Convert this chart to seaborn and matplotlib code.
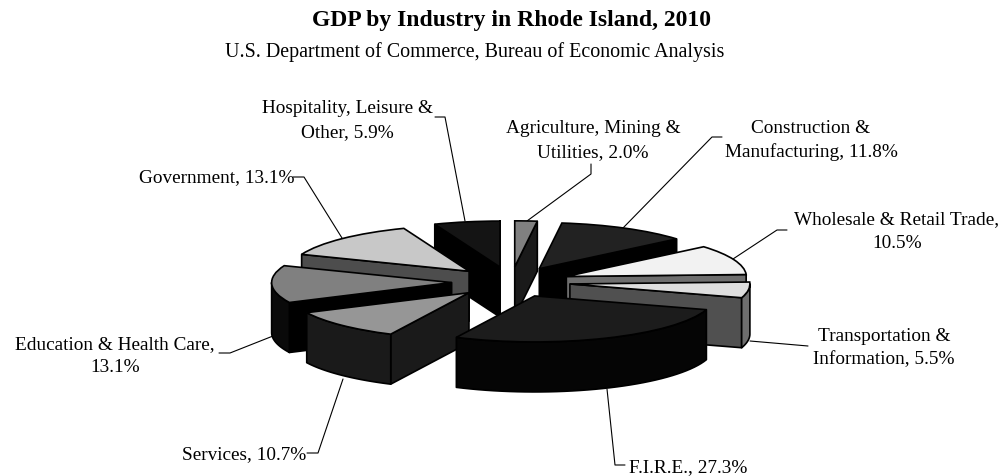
#!/usr/bin/env python3

import numpy as np
import seaborn as sns
import matplotlib
matplotlib.use("Agg")
import matplotlib.pyplot as plt
from matplotlib.patches import Polygon

# clockwise from twelve o'clock
industries = ["Agriculture, Mining &\nUtilities, 2.0%",
	"Construction &\nManufacturing, 11.8%",
	"Wholesale & Retail Trade,\n10.5%",
	"Transportation &\nInformation, 5.5%",
	"F.I.R.E., 27.3%",
	"Services, 10.7%",
	"Education & Health Care,\n13.1%",
	"Government, 13.1%",
	"Hospitality, Leisure &\nOther, 5.9%"]
shares = [2.0, 11.8, 10.5, 5.5, 27.3, 10.7, 13.1, 13.1, 5.9]
top_shades = ["#808080", "#222222", "#f2f2f2", "#dedede", "#1c1c1c", "#969696", "#808080", "#c8c8c8", "#141414"]
side_shades = ["#1a1a1a", "#000000", "#6e6e6e", "#505050", "#050505", "#1a1a1a", "#000000", "#4d4d4d", "#000000"]
rim_shades = ["#1a1a1a", "#000000", "#6e6e6e", "#6e6e6e", "#050505", "#1a1a1a", "#0a0a0a", "#4d4d4d", "#000000"]

# layout, in picture pixels
W, H = 1005, 477
CX, CY = 511, 283
RX, RY = 180, 46
DEPTH = 50 / RY
label_pos = [(593, 140.5, "center"), (811, 140.5, "center"), (897, 231.5, "center"), (884, 348, "center"),
	(629, 468, "left"), (182, 455, "left"), (115, 356, "center"), (139, 178, "left"), (347, 120.5, "center")]
leaders = [[(591, 165), (591, 175), (527, 222)],
	[(722, 138), (712, 138), (623, 229)],
	[(787, 231), (777, 231), (733, 260)],
	[(808, 347), (750, 342)],
	[(625, 466), (615, 466), (607, 390)],
	[(307, 454), (318, 454), (343, 380)],
	[(219, 354), (230, 354), (273, 337)],
	[(293, 178), (304, 178), (342, 239)],
	[(435, 118), (445, 118), (465, 222)]]

def to_data(p):
	return ((p[0] - CX) / RX, (CY - p[1]) / RY)

def add_sides(ax, wedge, shade, rim_shade, z):
	cx, cy = wedge.center
	r = wedge.r
	down = np.array([0, -DEPTH])
	apex = np.array([cx, cy])

	def rim(a):
		a = np.radians(a)
		return np.column_stack([cx + r * np.cos(a), cy + r * np.sin(a)])

	def add_face(top, color):
		top = np.asarray(top)
		poly = np.vstack([top, top[::-1] + down])
		ax.add_patch(Polygon(poly, closed=True, facecolor=color, edgecolor="black",
			linewidth=1.2, joinstyle="round", zorder=z))

	# flat cut faces, only those turned towards the viewer
	for angle, normal in ((wedge.theta1, wedge.theta1 - 90), (wedge.theta2, wedge.theta2 + 90)):
		if np.sin(np.radians(normal)) < 0:
			add_face(np.vstack([apex, rim(np.array([angle]))]), shade)

	# outer rim, front half only
	for lo, hi in ((wedge.theta1, wedge.theta2), (wedge.theta1 + 360, wedge.theta2 + 360)):
		a0, a1 = max(lo, 180), min(hi, 360)
		if a1 > a0:
			add_face(rim(np.linspace(a0, a1, 40)), rim_shade)

def plot_pie():
	sns.set_theme(style="white")
	plt.rcParams["font.family"] = ["Liberation Serif", "DejaVu Serif"]

	fig = plt.figure(figsize=(W / 100, H / 100), dpi=100)
	ax = fig.add_axes([0, 0, 1, 1])

	wedges, _ = ax.pie(shares, explode=[0.33] * len(shares), startangle=90, counterclock=False,
		colors=top_shades, wedgeprops=dict(edgecolor="black", linewidth=1.2))
	ax.set_aspect("auto")
	ax.set_xlim(-CX / RX, (W - CX) / RX)
	ax.set_ylim((CY - H) / RY, CY / RY)

	# back slices first
	order = np.argsort([-w.center[1] for w in wedges])
	for rank, i in enumerate(order):
		z = 10 + rank * 2
		add_sides(ax, wedges[i], side_shades[i], rim_shades[i], z)
		wedges[i].set_zorder(z + 1)

	for name, (x, y, ha), line in zip(industries, label_pos, leaders):
		dx, dy = to_data((x, y))
		ax.text(dx, dy, name, ha=ha, va="center", fontsize=13.9, color="black", linespacing=1.5, zorder=40)
		pts = np.array([to_data(p) for p in line])
		ax.plot(pts[:, 0], pts[:, 1], color="black", linewidth=0.8, zorder=5)

	tx, ty = to_data((511, 21))
	ax.text(tx, ty, "GDP by Industry in Rhode Island, 2010", ha="center", va="center",
		fontsize=17, fontweight="bold", color="black")
	tx, ty = to_data((475, 52))
	ax.text(tx, ty, "U.S. Department of Commerce, Bureau of Economic Analysis", ha="center", va="center",
		fontsize=14.4, color="black")

	fig.savefig("out.png", dpi=100)

if __name__ == '__main__':
	plot_pie()
